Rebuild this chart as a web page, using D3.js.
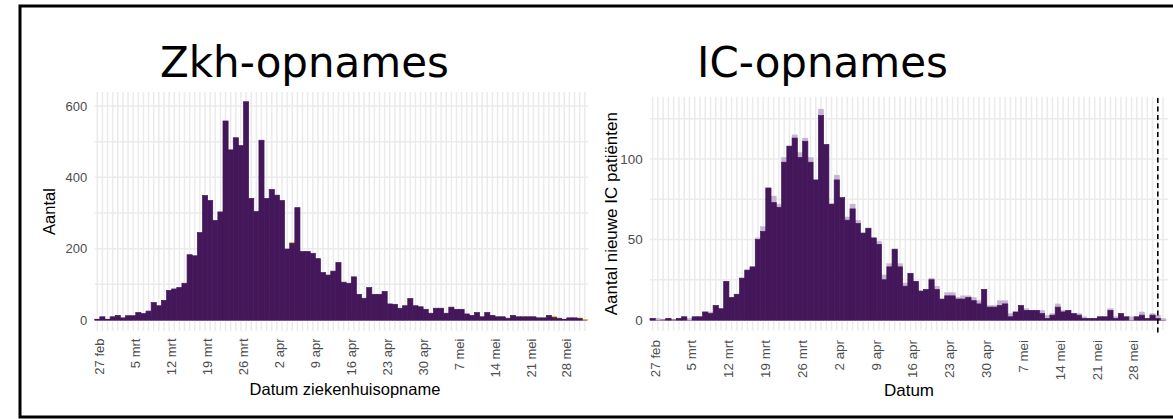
<!DOCTYPE html>
<html><head><meta charset="utf-8">
<script src="https://cdn.jsdelivr.net/npm/d3@7"></script>
<style>body{margin:0;background:#fff;} svg{display:block;}</style>
</head><body>
<svg id="c" width="1173" height="419"></svg>
<script>
// ---------------- data ----------------
const startDate = "2020-02-27";
const tickDates = ["2020-02-27","2020-03-05","2020-03-12","2020-03-19","2020-03-26","2020-04-02","2020-04-09","2020-04-16","2020-04-23","2020-04-30","2020-05-07","2020-05-14","2020-05-21","2020-05-28"];
const tickLabels = ["27 feb","5 mrt","12 mrt","19 mrt","26 mrt","2 apr","9 apr","16 apr","23 apr","30 apr","7 mei","14 mei","21 mei","28 mei"];

// Ziekenhuisopnames per dag (vanaf 27 feb)
const zkhMain = [2,9,2,9,13,6,12,12,21,18,
  25,49,40,55,83,87,91,103,183,180,
  245,349,335,279,303,558,477,511,489,612,
  341,304,504,341,366,350,335,199,215,315,
  192,192,187,172,133,126,137,161,106,103,
  121,72,61,91,72,72,80,45,44,33,
  40,60,40,37,30,19,33,33,19,36,
  30,30,17,13,21,9,21,13,9,9,
  5,13,9,9,9,9,6,6,13,7,
  5,2,6,6,4,0];
const zkhLate = [0,0,0,0,0,0,0,0,0,0, 0,0,0,0,0,0,0,0,0,0, 0,0,0,0,0,0,0,0,0,0,
  0,0,0,0,0,0,0,0,3,0, 0,0,0,0,0,0,0,0,0,0, 0,0,0,0,0,0,0,0,0,0,
  0,0,0,0,0,0,0,0,0,0, 0,0,0,0,0,0,0,0,0,0, 0,0,0,0,0,0,0,0,0,4,
  0,0,0,0,2,2];
const zkhYTicks = [0,200,400,600];
const zkhYMinor = [100,300,500];

// Nieuwe IC patiënten per dag (vanaf 27 feb)
const icMain = [1,0,0,1,0,1,2,0,2,2,
  5,4,9,7,24,14,16,26,31,33,
  50,55,82,73,70,98,108,113,101,111,
  98,87,127,109,72,87,76,62,69,60,
  54,57,51,47,25,33,44,33,21,29,
  24,18,19,25,19,13,15,15,13,13,
  14,12,10,19,8,8,9,10,2,5,
  9,6,6,6,4,1,3,8,5,6,
  4,3,1,1,1,2,2,6,1,4,
  2,0,2,3,1,3,1,0];
const icLate = [0,1,0,0,0,0,0,1,0,0,
  0,1,0,0,0,0,0,0,0,0,
  1,3,0,4,2,3,0,2,3,2,
  3,0,4,0,0,3,0,2,3,2,
  0,0,0,2,3,2,0,2,2,0,
  0,0,0,1,2,0,2,2,1,2,
  1,2,2,0,1,1,3,2,2,0,
  0,1,0,0,2,2,1,2,1,0,
  0,1,1,0,0,0,0,1,1,0,
  0,2,0,2,0,1,2,1];
const icYTicks = [0,50,100];
const icYMinor = [25,75,125];
const icCutoffDate = "2020-06-02";

// ---------------- helpers ----------------
const parse = d3.utcParse("%Y-%m-%d");
const t0 = parse(startDate);
const DARK = "#44175a", ORANGE = "#f8b32e", LIGHT = "#c6b3d1", GRID = "#ebebeb";
const svg = d3.select("#c");
svg.append("rect").attr("width",1173).attr("height",419).attr("fill","#fff");

function panel(cfg){
  const g = svg.append("g");
  const x = d3.scaleUtc().domain([d3.utcHour.offset(t0,-12), cfg.xEnd]).range([cfg.x0, cfg.x1]);
  const y = d3.scaleLinear().domain([0, cfg.yRefVal]).range([cfg.y0, cfg.yRefPx]);
  // grid: vertical daily
  const days = d3.utcDay.range(t0, cfg.xEnd);
  g.append("g").selectAll("line").data(days).join("line")
    .attr("x1",d=>x(d)).attr("x2",d=>x(d)).attr("y1",cfg.yTop).attr("y2",cfg.yBot)
    .attr("stroke",GRID).attr("stroke-width",1.5);
  // horizontal grid
  g.append("g").selectAll("line").data(cfg.yMinor.concat(cfg.yTicks)).join("line")
    .attr("x1",cfg.x0).attr("x2",cfg.x1).attr("y1",d=>y(d)).attr("y2",d=>y(d))
    .attr("stroke",GRID).attr("stroke-width",1.5);
  // bars
  const rows = cfg.main.map((v,i)=>({d:d3.utcDay.offset(t0,i), a:v, b:cfg.late[i]}));
  const bx = d=>x(d3.utcHour.offset(d,-12)), bw = d=>x(d3.utcHour.offset(d,12))-x(d3.utcHour.offset(d,-12));
  g.append("line").attr("x1",cfg.x0).attr("x2",bx(rows[rows.length-1].d)+bw(rows[rows.length-1].d))
    .attr("y1",y(0)).attr("y2",y(0)).attr("stroke",DARK).attr("stroke-width",1);
  g.append("g").selectAll("rect").data(rows.filter(r=>r.b>0)).join("rect")
    .attr("x",r=>bx(r.d)).attr("width",r=>bw(r.d))
    .attr("y",r=>y(r.a+r.b)).attr("height",r=>y(r.a)-y(r.a+r.b))
    .attr("fill",cfg.lateColor).attr("stroke",cfg.lateColor).attr("stroke-width",0.4);
  g.append("g").selectAll("rect").data(rows.filter(r=>r.a>0)).join("rect")
    .attr("x",r=>bx(r.d)).attr("width",r=>bw(r.d))
    .attr("y",r=>y(r.a)).attr("height",r=>y(0)-y(r.a))
    .attr("fill",DARK).attr("stroke",DARK).attr("stroke-width",0.7);
  // y tick labels
  g.append("g").selectAll("text").data(cfg.yTicks).join("text")
    .attr("x",cfg.x0-7.4).attr("y",d=>y(d)).attr("dy","0.36em")
    .attr("text-anchor","end").attr("font-family","'Liberation Sans', Arial, sans-serif")
    .attr("font-size",cfg.tickFs).attr("fill","#4d4d4d").text(d=>d);
  // x tick labels
  g.append("g").selectAll("text").data(tickDates).join("text")
    .attr("transform",(d)=>`translate(${x(parse(d))},${cfg.labTop}) rotate(-90)`)
    .attr("dy",cfg.labDy).attr("text-anchor","end")
    .attr("font-family","'Liberation Sans', Arial, sans-serif")
    .attr("font-size",cfg.tickFs).attr("fill","#4d4d4d").text((d,i)=>tickLabels[i]);
  // axis titles
  g.append("text").attr("x",cfg.xTitleX).attr("y",cfg.xTitleY).attr("text-anchor","middle")
    .attr("font-family","'Liberation Sans', Arial, sans-serif").attr("font-size",cfg.titleFs)
    .attr("fill","#000").text(cfg.xTitle);
  g.append("text").attr("transform",`translate(${cfg.yTitleX},${(cfg.yTop+cfg.yBot)/2}) rotate(-90)`)
    .attr("text-anchor","middle")
    .attr("font-family","'Liberation Sans', Arial, sans-serif").attr("font-size",cfg.titleFs)
    .attr("fill","#000").text(cfg.yTitle);
  return {x,y,g};
}

panel({x0:94.7, x1:588.2, xEnd:new Date(Date.UTC(2020,5,1,16)), yTop:92, yBot:331, y0:320, yRefVal:600, yRefPx:106,
  main:zkhMain, late:zkhLate, lateColor:ORANGE, yTicks:zkhYTicks, yMinor:zkhYMinor,
  tickFs:13, labTop:338.5, labDy:7.2, titleFs:16.5, xTitle:"Datum ziekenhuisopname", xTitleX:345, xTitleY:395,
  yTitle:"Aantal", yTitleX:55});

const R = panel({x0:650, x1:1168, xEnd:new Date(Date.UTC(2020,5,3,22,30)), yTop:96.7, yBot:330.6, y0:320, yRefVal:100, yRefPx:159,
  main:icMain, late:icLate, lateColor:LIGHT, yTicks:icYTicks, yMinor:icYMinor,
  tickFs:13.4, labTop:340, labDy:7, titleFs:17, xTitle:"Datum", xTitleX:909, xTitleY:396,
  yTitle:"Aantal nieuwe IC patiënten", yTitleX:616.5});
// cutoff dashed line
R.g.append("line").attr("x1",R.x(parse(icCutoffDate))).attr("x2",R.x(parse(icCutoffDate)))
  .attr("y1",98).attr("y2",333).attr("stroke","#000").attr("stroke-width",1.6).attr("stroke-dasharray","5,3.5");

// panel titles
svg.append("text").attr("x",160).attr("y",77).attr("font-family","'DejaVu Sans', Verdana, sans-serif")
  .attr("font-size",42).attr("fill","#000").text("Zkh-opnames");
svg.append("text").attr("x",697).attr("y",77).attr("font-family","'DejaVu Sans', Verdana, sans-serif")
  .attr("font-size",42).attr("fill","#000").text("IC-opnames");

// frame
svg.append("rect").attr("x",20).attr("y",6).attr("width",1170).attr("height",411)
  .attr("fill","none").attr("stroke","#000").attr("stroke-width",3);
</script>
</body></html>
